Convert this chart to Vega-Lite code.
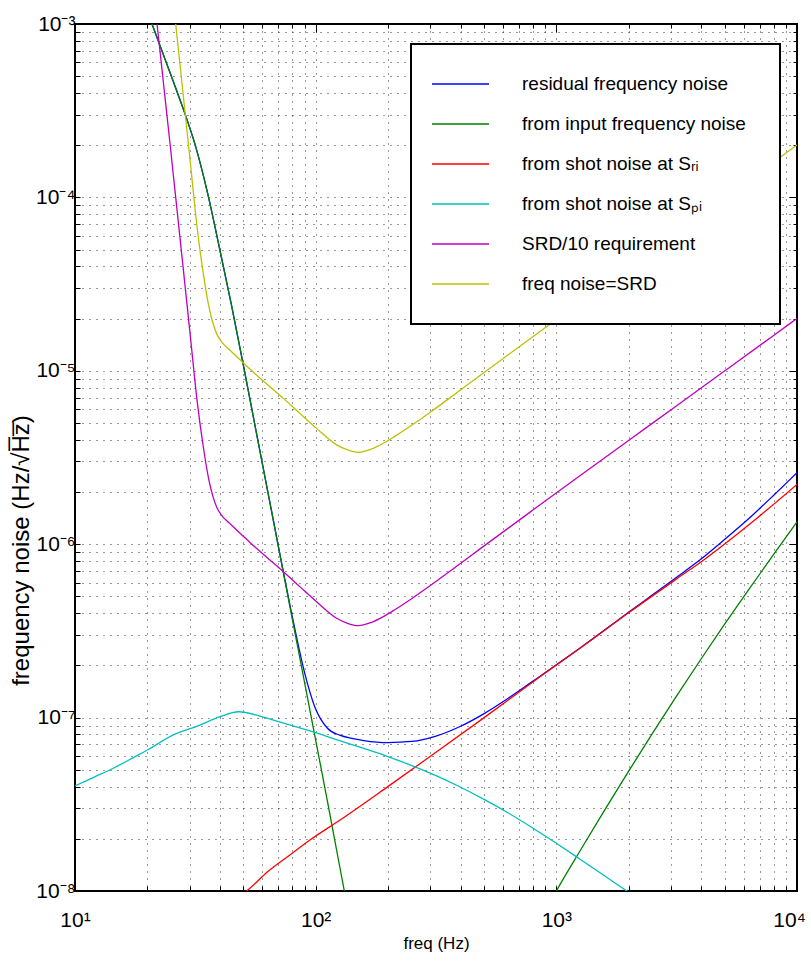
{
  "$schema": "https://vega.github.io/schema/vega-lite/v6.json",
  "width": 722,
  "height": 867,
  "autosize": {"type": "none"},
  "padding": {"left": 75, "top": 24, "right": 14, "bottom": 75},
  "background": "white",
  "config": {
    "view": {"stroke": "#000", "strokeWidth": 2},
    "legend": {"strokeWidth": 2},
    "axis": {"labelColor": "#000", "titleColor": "#000", "tickColor": "#000"}
  },
  "datasets": {
    "names": [
      {"k": "b", "name": "residual frequency noise"},
      {"k": "g", "name": "from input frequency noise"},
      {"k": "r", "name": "from shot noise at Sᵣᵢ"},
      {"k": "c", "name": "from shot noise at Sₚᵢ"},
      {"k": "m", "name": "SRD/10 requirement"},
      {"k": "y", "name": "freq noise=SRD"}
    ]
  },
  "data": {"values": [
    {"k":"b","f":19.95,"v":1.186e-3},{"k":"b","f":20.89,"v":1.0e-3},{"k":"b","f":25.12,"v":5.012e-4},{"k":"b","f":28.84,"v":2.951e-4},{"k":"b","f":31.62,"v":1.995e-4},{"k":"b","f":35.48,"v":1.072e-4},{"k":"b","f":39.81,"v":5.129e-5},{"k":"b","f":44.67,"v":2.399e-5},{"k":"b","f":50.12,"v":1.072e-5},{"k":"b","f":56.23,"v":4.677e-6},{"k":"b","f":63.1,"v":2.044e-6},{"k":"b","f":70.79,"v":8.962e-7},{"k":"b","f":79.43,"v":3.996e-7},{"k":"b","f":89.13,"v":1.912e-7},{"k":"b","f":100,"v":1.12e-7},{"k":"b","f":112.2,"v":8.65e-8},{"k":"b","f":125.9,"v":7.915e-8},{"k":"b","f":141.3,"v":7.583e-8},{"k":"b","f":158.5,"v":7.372e-8},{"k":"b","f":199.5,"v":7.176e-8},{"k":"b","f":251.2,"v":7.283e-8},{"k":"b","f":316.2,"v":7.823e-8},{"k":"b","f":398.1,"v":8.885e-8},{"k":"b","f":501.2,"v":1.055e-7},{"k":"b","f":631,"v":1.293e-7},{"k":"b","f":794.3,"v":1.613e-7},{"k":"b","f":1000,"v":2.015e-7},{"k":"b","f":1259,"v":2.529e-7},{"k":"b","f":1585,"v":3.195e-7},{"k":"b","f":1995,"v":4.051e-7},{"k":"b","f":2512,"v":5.105e-7},{"k":"b","f":3162,"v":6.45e-7},{"k":"b","f":3981,"v":8.18e-7},{"k":"b","f":5012,"v":1.067e-6},{"k":"b","f":6310,"v":1.406e-6},{"k":"b","f":7943,"v":1.897e-6},{"k":"b","f":10000,"v":2.588e-6},

    {"k":"g","p":1,"f":19.95,"v":1.186e-3},{"k":"g","p":1,"f":20.89,"v":1.0e-3},{"k":"g","p":1,"f":25.12,"v":5.012e-4},{"k":"g","p":1,"f":28.84,"v":2.951e-4},{"k":"g","p":1,"f":31.62,"v":1.995e-4},{"k":"g","p":1,"f":35.48,"v":1.072e-4},{"k":"g","p":1,"f":39.81,"v":5.129e-5},{"k":"g","p":1,"f":44.67,"v":2.399e-5},{"k":"g","p":1,"f":50.12,"v":1.072e-5},{"k":"g","p":1,"f":56.23,"v":4.677e-6},{"k":"g","p":1,"f":63.1,"v":2.042e-6},{"k":"g","p":1,"f":70.79,"v":8.913e-7},{"k":"g","p":1,"f":79.43,"v":3.89e-7},{"k":"g","p":1,"f":89.13,"v":1.698e-7},{"k":"g","p":1,"f":100,"v":7.413e-8},{"k":"g","p":1,"f":112.2,"v":3.236e-8},{"k":"g","p":1,"f":125.9,"v":1.38e-8},{"k":"g","p":1,"f":134.9,"v":8.318e-9},{"k":"g","p":1,"f":141.3,"v":5.888e-9},
    {"k":"g","p":2,"f":955,"v":8.91e-9},{"k":"g","p":2,"f":1000,"v":1.0e-8},{"k":"g","p":2,"f":1259,"v":1.718e-8},{"k":"g","p":2,"f":1585,"v":2.917e-8},{"k":"g","p":2,"f":1995,"v":4.898e-8},{"k":"g","p":2,"f":2512,"v":8.128e-8},{"k":"g","p":2,"f":3162,"v":1.334e-7},{"k":"g","p":2,"f":3981,"v":2.163e-7},{"k":"g","p":2,"f":5012,"v":3.467e-7},{"k":"g","p":2,"f":6310,"v":5.495e-7},{"k":"g","p":2,"f":7943,"v":8.61e-7},{"k":"g","p":2,"f":10000,"v":1.346e-6},

    {"k":"r","f":47.86,"v":9.33e-9},{"k":"r","f":51.64,"v":1.0e-8},{"k":"r","f":63.1,"v":1.291e-8},{"k":"r","f":79.43,"v":1.641e-8},{"k":"r","f":94.62,"v":1.968e-8},{"k":"r","f":125.9,"v":2.559e-8},{"k":"r","f":199.5,"v":4.0e-8},{"k":"r","f":316.2,"v":6.31e-8},{"k":"r","f":501.2,"v":1.0e-7},{"k":"r","f":855.1,"v":1.718e-7},{"k":"r","f":1259,"v":2.518e-7},{"k":"r","f":2023,"v":4.074e-7},{"k":"r","f":3162,"v":6.31e-7},{"k":"r","f":4083,"v":8.091e-7},{"k":"r","f":6310,"v":1.294e-6},{"k":"r","f":10000,"v":2.213e-6},

    {"k":"c","f":10,"v":4.036e-8},{"k":"c","f":12.02,"v":4.539e-8},{"k":"c","f":14.42,"v":5.105e-8},{"k":"c","f":17.78,"v":5.957e-8},{"k":"c","f":20,"v":6.501e-8},{"k":"c","f":25.59,"v":7.943e-8},{"k":"c","f":33.04,"v":9.057e-8},{"k":"c","f":40.04,"v":1.012e-7},{"k":"c","f":47.75,"v":1.081e-7},{"k":"c","f":58.75,"v":1.021e-7},{"k":"c","f":70.79,"v":9.441e-8},{"k":"c","f":94.62,"v":8.375e-8},{"k":"c","f":125.9,"v":7.362e-8},{"k":"c","f":158.5,"v":6.637e-8},{"k":"c","f":199.5,"v":5.957e-8},{"k":"c","f":251.2,"v":5.284e-8},{"k":"c","f":316.2,"v":4.624e-8},{"k":"c","f":398.1,"v":3.981e-8},{"k":"c","f":501.2,"v":3.373e-8},{"k":"c","f":631,"v":2.818e-8},{"k":"c","f":794.3,"v":2.317e-8},{"k":"c","f":1000,"v":1.884e-8},{"k":"c","f":1259,"v":1.521e-8},{"k":"c","f":1585,"v":1.225e-8},{"k":"c","f":1995,"v":9.84e-9},{"k":"c","f":2512,"v":7.943e-9},

    {"k":"m","f":21.38,"v":1.349e-3},{"k":"m","f":22.13,"v":8.872e-4},{"k":"m","f":23.44,"v":4.246e-4},{"k":"m","f":24.83,"v":2.032e-4},{"k":"m","f":26.3,"v":9.55e-5},{"k":"m","f":28.12,"v":3.972e-5},{"k":"m","f":30.2,"v":1.549e-5},{"k":"m","f":32.14,"v":6.776e-6},{"k":"m","f":34.12,"v":3.648e-6},{"k":"m","f":35.89,"v":2.399e-6},{"k":"m","f":37.33,"v":1.905e-6},{"k":"m","f":38.9,"v":1.622e-6},{"k":"m","f":40.74,"v":1.462e-6},{"k":"m","f":43.65,"v":1.33e-6},{"k":"m","f":50.12,"v":1.109e-6},{"k":"m","f":53.33,"v":1.023e-6},{"k":"m","f":63.1,"v":8.318e-7},{"k":"m","f":73.45,"v":6.934e-7},{"k":"m","f":86.1,"v":5.675e-7},{"k":"m","f":100.9,"v":4.656e-7},{"k":"m","f":122.2,"v":3.741e-7},{"k":"m","f":134.9,"v":3.508e-7},{"k":"m","f":150.3,"v":3.388e-7},{"k":"m","f":169.8,"v":3.532e-7},{"k":"m","f":191,"v":3.819e-7},{"k":"m","f":213.8,"v":4.198e-7},{"k":"m","f":251.2,"v":4.864e-7},{"k":"m","f":298.5,"v":5.754e-7},{"k":"m","f":382.8,"v":7.413e-7},{"k":"m","f":481.9,"v":9.397e-7},{"k":"m","f":778,"v":1.531e-6},{"k":"m","f":1253,"v":2.483e-6},{"k":"m","f":2023,"v":4.018e-6},{"k":"m","f":3162,"v":6.295e-6},{"k":"m","f":5012,"v":1.0e-5},{"k":"m","f":7943,"v":1.589e-5},{"k":"m","f":10000,"v":2.004e-5},

    {"k":"y","f":23.44,"v":4.246e-3},{"k":"y","f":24.83,"v":2.032e-3},{"k":"y","f":26.3,"v":9.55e-4},{"k":"y","f":28.12,"v":3.972e-4},{"k":"y","f":30.2,"v":1.549e-4},{"k":"y","f":32.14,"v":6.776e-5},{"k":"y","f":34.12,"v":3.648e-5},{"k":"y","f":35.89,"v":2.399e-5},{"k":"y","f":37.33,"v":1.905e-5},{"k":"y","f":38.9,"v":1.622e-5},{"k":"y","f":40.74,"v":1.462e-5},{"k":"y","f":43.65,"v":1.33e-5},{"k":"y","f":50.12,"v":1.109e-5},{"k":"y","f":53.33,"v":1.023e-5},{"k":"y","f":63.1,"v":8.318e-6},{"k":"y","f":73.45,"v":6.934e-6},{"k":"y","f":86.1,"v":5.675e-6},{"k":"y","f":100.9,"v":4.656e-6},{"k":"y","f":122.2,"v":3.741e-6},{"k":"y","f":134.9,"v":3.508e-6},{"k":"y","f":150.3,"v":3.388e-6},{"k":"y","f":169.8,"v":3.532e-6},{"k":"y","f":191,"v":3.819e-6},{"k":"y","f":213.8,"v":4.198e-6},{"k":"y","f":251.2,"v":4.864e-6},{"k":"y","f":298.5,"v":5.754e-6},{"k":"y","f":382.8,"v":7.413e-6},{"k":"y","f":481.9,"v":9.397e-6},{"k":"y","f":778,"v":1.531e-5},{"k":"y","f":1253,"v":2.483e-5},{"k":"y","f":2023,"v":4.018e-5},{"k":"y","f":3162,"v":6.295e-5},{"k":"y","f":5012,"v":1.0e-4},{"k":"y","f":7943,"v":1.589e-4},{"k":"y","f":10000,"v":2.004e-4}
  ]},
  "transform": [
    {"lookup": "k", "from": {"data": {"name": "names"}, "key": "k", "fields": ["name"]}}
  ],
  "layer": [
    {
      "mark": {"type": "line", "strokeWidth": 1.3, "clip": true, "interpolate": "monotone"},
      "encoding": {
        "x": {
          "field": "f", "type": "quantitative",
          "scale": {"type": "log", "domain": [10, 10000], "nice": false},
          "axis": {
            "orient": "bottom",
            "values": [10,20,30,40,50,60,70,80,90,100,200,300,400,500,600,700,800,900,1000,2000,3000,4000,5000,6000,7000,8000,9000,10000],
            "labelExpr": "datum.value==10?'10¹':datum.value==100?'10²':datum.value==1000?'10³':datum.value==10000?'10⁴':''",
            "grid": true, "gridColor": "#000", "gridDash": [1, 6], "gridOpacity": 0.8, "gridWidth": 1,
            "domain": false, "ticks": true, "tickSize": -5, "tickWidth": 1,
            "labelFont": "'Liberation Sans', sans-serif", "labelFontSize": 21,
            "labelPadding": 23, "labelFlush": false, "labelOverlap": false, "labelBound": false,
            "labelOffset": {"condition": {"test": "datum.value==10000", "value": -8}, "value": 0},
            "title": "freq (Hz)", "titleFont": "'Liberation Sans', sans-serif", "titleFontSize": 17,
            "titleFontWeight": "normal", "titlePadding": 5
          }
        },
        "y": {
          "field": "v", "type": "quantitative",
          "scale": {"type": "log", "domain": [1e-8, 1e-3], "nice": false},
          "axis": {
            "orient": "left",
            "values": [1e-8,2e-8,3e-8,4e-8,5e-8,6e-8,7e-8,8e-8,9e-8,1e-7,2e-7,3e-7,4e-7,5e-7,6e-7,7e-7,8e-7,9e-7,1e-6,2e-6,3e-6,4e-6,5e-6,6e-6,7e-6,8e-6,9e-6,1e-5,2e-5,3e-5,4e-5,5e-5,6e-5,7e-5,8e-5,9e-5,1e-4,2e-4,3e-4,4e-4,5e-4,6e-4,7e-4,8e-4,9e-4,1e-3],
            "labelExpr": "abs(log(datum.value)/LN10-round(log(datum.value)/LN10))<0.01 ? '10⁻'+['⁰','¹','²','³','⁴','⁵','⁶','⁷','⁸','⁹'][-round(log(datum.value)/LN10)] : ''",
            "grid": true, "gridColor": "#000", "gridDash": [1, 6], "gridOpacity": 0.8, "gridWidth": 1,
            "domain": false, "ticks": true, "tickSize": -5, "tickWidth": 1,
            "labelFont": "'Liberation Sans', sans-serif", "labelFontSize": 21,
            "labelPadding": 5, "labelFlush": false, "labelOverlap": false, "labelBound": false,
            "title": "frequency noise (Hz/√H̅z̅)", "titleFont": "'Liberation Sans', sans-serif", "titleFontSize": 24,
            "titleFontWeight": "normal", "titleX": -42, "titleY": 526, "titleAngle": -90, "titleAlign": "center", "titleBaseline": "bottom"
          }
        },
        "color": {
          "field": "name", "type": "nominal",
          "scale": {
            "domain": ["residual frequency noise", "from input frequency noise", "from shot noise at Sᵣᵢ", "from shot noise at Sₚᵢ", "SRD/10 requirement", "freq noise=SRD"],
            "range": ["#0000ff", "#008000", "#ff0000", "#00bfbf", "#bf00bf", "#bfbf00"]
          },
          "legend": {
            "orient": "none", "legendX": 336, "legendY": 20, "title": null,
            "fillColor": "#ffffff", "strokeColor": "#000000", "padding": 20,
            "symbolType": "stroke", "symbolSize": 3249, "symbolStrokeWidth": 1.3,
            "labelFont": "'Liberation Sans', sans-serif", "labelFontSize": 19,
            "labelColor": "#000", "labelOffset": 32, "labelLimit": 0,
            "rowPadding": 0, "clipHeight": 40,
            "labelExpr": "datum.label + '⠀'"
          }
        },
        "detail": {"field": "p"}
      }
    },
    {
      "mark": {"type": "point", "opacity": 0},
      "encoding": {
        "x": {
          "field": "f", "type": "quantitative",
          "scale": {"type": "log", "domain": [10, 10000], "nice": false},
          "axis": {
            "orient": "top",
            "values": [10,20,30,40,50,60,70,80,90,100,200,300,400,500,600,700,800,900,1000,2000,3000,4000,5000,6000,7000,8000,9000,10000],
            "labels": false, "grid": false, "domain": false, "ticks": true, "tickWidth": 1, "title": null,
            "tickSize": {"condition": {"test": "datum.value==10 || datum.value==100 || datum.value==1000 || datum.value==10000", "value": -8}, "value": -4}
          }
        },
        "y": {
          "field": "v", "type": "quantitative",
          "scale": {"type": "log", "domain": [1e-8, 1e-3], "nice": false},
          "axis": {
            "orient": "right",
            "values": [1e-8,2e-8,3e-8,4e-8,5e-8,6e-8,7e-8,8e-8,9e-8,1e-7,2e-7,3e-7,4e-7,5e-7,6e-7,7e-7,8e-7,9e-7,1e-6,2e-6,3e-6,4e-6,5e-6,6e-6,7e-6,8e-6,9e-6,1e-5,2e-5,3e-5,4e-5,5e-5,6e-5,7e-5,8e-5,9e-5,1e-4,2e-4,3e-4,4e-4,5e-4,6e-4,7e-4,8e-4,9e-4,1e-3],
            "labels": false, "grid": false, "domain": false, "ticks": true, "tickWidth": 1, "title": null,
            "tickSize": {"condition": {"test": "abs(log(datum.value)/LN10-round(log(datum.value)/LN10))<0.01", "value": -8}, "value": -4}
          }
        }
      }
    }
  ],
  "resolve": {"axis": {"x": "independent", "y": "independent"}}
}
